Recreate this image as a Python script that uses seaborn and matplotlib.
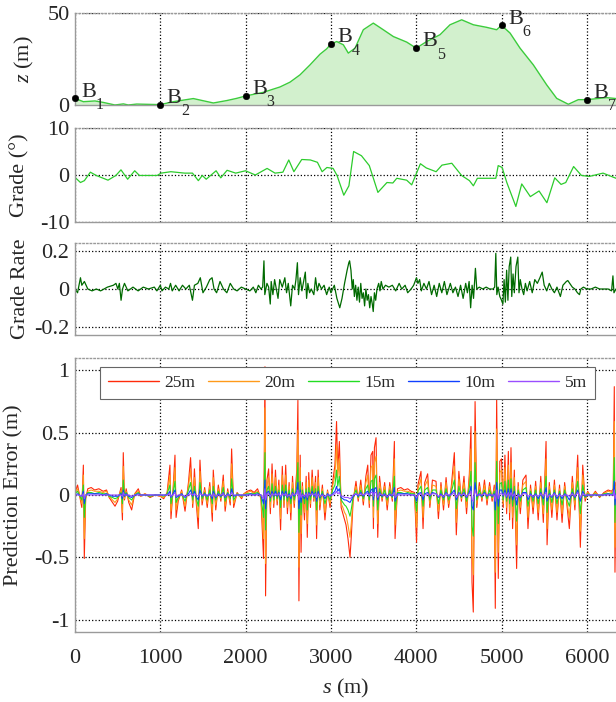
import matplotlib
matplotlib.use('Agg')
import matplotlib.pyplot as plt
import seaborn as sns

# ---- elevation profile ----
elev_s = [0, 98, 234, 332, 469, 567, 625, 723, 1000, 1153, 1387, 1622, 1778, 1895, 2000,
          2208, 2403, 2520, 2638, 2755, 2872, 2950, 3000, 3068, 3146, 3204, 3283, 3380,
          3497, 3614, 3732, 3888, 4000, 4123, 4279, 4396, 4533, 4670, 4826, 4943, 5000,
          5100, 5217, 5373, 5530, 5647, 5783, 5900, 6000, 6233, 6342]
elev_z = [3.6, 1.8, 2.2, 1.4, 0.0, 0.6, 0.0, 0.5, 0.2, 1.8, 3.5, 1.1, 2.4, 3.6, 4.9,
          6.9, 9.8, 12.4, 16.4, 21.8, 27.6, 30.5, 33.1, 34.5, 32.7, 28.2, 30.9, 40.9,
          44.5, 40.9, 37.2, 34.2, 30.9, 34.5, 38.2, 43.6, 46.3, 43.6, 42.2, 40.9, 43.3,
          39.1, 30.9, 21.8, 10.9, 3.6, 0.4, 2.9, 2.9, 4.0, 3.5]
station_s = [0, 1000, 2000, 3000, 4000, 5000, 6000]
station_z = [3.6, 0.2, 4.9, 33.1, 30.9, 43.3, 2.9]
station_ids = ['1', '2', '3', '4', '5', '6', '7']

# ---- grade (deg) ----
grade_s = [0, 64, 110, 180, 249, 387, 479, 539, 617, 700, 755, 963, 1009, 1124, 1285,
           1377, 1446, 1492, 1538, 1654, 1709, 1783, 1884, 1999, 2114, 2252, 2345, 2437,
           2506, 2566, 2658, 2759, 2842, 2897, 2953, 3026, 3072, 3151, 3211, 3266, 3358,
           3450, 3551, 3657, 3726, 3772, 3888, 3947, 4049, 4118, 4233, 4302, 4417, 4532,
           4624, 4670, 4717, 4933, 4961, 5007, 5062, 5168, 5237, 5338, 5440, 5532, 5624,
           5698, 5753, 5845, 5937, 6030, 6190, 6343]
grade_v = [-0.5, -1.6, -1.2, 0.6, -0.1, -1.1, -0.1, 1.1, -0.9, 0.9, -0.1, -0.1, 0.4, 0.7, 0.4,
           0.4, -1.2, -0.1, -0.9, 0.9, -0.6, 1.0, 0.4, 0.9, 0.0, 1.4, 0.4, 0.6,
           3.2, 0.7, 3.3, 3.2, 2.7, 0.7, 1.6, 1.4, -0.1, -4.3, -2.3, 5.0, 4.1,
           2.0, -3.7, -1.6, -1.7, -0.7, -1.1, -2.1, 2.4, 1.5, 0.7, 2.1, 2.5, -0.1,
           -1.2, -2.3, -0.7, -0.7, 2.0, 1.6, -1.6, -6.7, -1.9, -4.6, -3.4, -5.9, -0.6,
           -2.0, -1.6, 1.8, -0.1, -0.3, 0.4, -0.7]

# ---- grade rate ----
rate_s = [0, 30, 64, 80, 110, 150, 200, 250, 300, 380,
          450, 480, 502, 520, 540, 557, 580, 620, 680, 740,
          800, 860, 930, 960, 1000, 1020, 1040, 1060, 1100, 1120,
          1140, 1180, 1220, 1260, 1300, 1340, 1377, 1400, 1440, 1469,
          1500, 1540, 1580, 1607, 1630, 1660, 1700, 1740, 1780, 1820,
          1860, 1900, 1950, 2000, 2050, 2090, 2120, 2150, 2180, 2200,
          2215, 2225, 2250, 2270, 2289, 2300, 2320, 2340, 2360, 2380,
          2400, 2430, 2460, 2480, 2500, 2529, 2550, 2575, 2590, 2607,
          2620, 2640, 2660, 2680, 2700, 2715, 2730, 2750, 2770, 2800,
          2820, 2840, 2860, 2890, 2920, 2950, 2980, 3000, 3040, 3070,
          3090, 3104, 3130, 3160, 3190, 3210, 3219, 3235, 3250, 3262,
          3275, 3290, 3305, 3320, 3335, 3350, 3365, 3380, 3395, 3410,
          3425, 3440, 3455, 3470, 3485, 3496, 3510, 3525, 3540, 3560,
          3575, 3590, 3610, 3640, 3680, 3720, 3760, 3800, 3830, 3870,
          3900, 3940, 3970, 4003, 4020, 4040, 4060, 4090, 4120, 4150,
          4180, 4210, 4240, 4270, 4300, 4330, 4360, 4400, 4430, 4460,
          4490, 4520, 4550, 4580, 4600, 4620, 4638, 4655, 4672, 4694,
          4710, 4740, 4780, 4820, 4860, 4900, 4920, 4933, 4945, 4960,
          4980, 5000, 5016, 5030, 5045, 5060, 5075, 5090, 5108, 5120,
          5135, 5150, 5170, 5191, 5205, 5220, 5240, 5260, 5280, 5300,
          5330, 5360, 5390, 5420, 5450, 5477, 5500, 5530, 5560, 5590,
          5620, 5650, 5690, 5720, 5760, 5777, 5800, 5830, 5860, 5890,
          5914, 5930, 5960, 6000, 6050, 6100, 6150, 6200, 6250, 6290,
          6306, 6318, 6342]
rate_v = [0.0, -0.02, 0.06, 0.02, 0.04, 0.0, -0.01, 0.0, -0.01, 0.01,
          0.02, 0.03, 0.0, 0.03, -0.06, 0.0, 0.03, -0.01, 0.01, -0.01,
          0.01, 0.0, 0.01, -0.01, 0.02, -0.01, 0.0, 0.01, 0.0, 0.03,
          -0.01, 0.02, -0.01, 0.02, 0.0, 0.02, -0.06, 0.02, 0.03, 0.06,
          -0.02, 0.01, 0.05, 0.06, 0.0, -0.02, 0.04, 0.0, -0.02, 0.03,
          0.0, -0.01, 0.01, 0.0, -0.01, 0.01, -0.02, 0.02, 0.0, 0.01,
          0.15, -0.03, 0.03, 0.01, -0.08, 0.04, -0.03, 0.05, 0.0, -0.05,
          0.05, 0.01, 0.06, -0.02, 0.03, -0.09, 0.02, 0.0, 0.05, 0.14,
          -0.03, 0.06, -0.01, 0.04, 0.09, -0.05, 0.03, -0.02, 0.0, -0.03,
          0.06, -0.01, 0.03, 0.0, 0.02, -0.03, 0.01, -0.02, 0.02, -0.05,
          -0.08, -0.1, -0.05, 0.03, 0.1, 0.14, 0.15, 0.1, 0.0, 0.05,
          -0.04, 0.02, -0.06, 0.01, -0.07, 0.03, -0.05, -0.02, -0.09, 0.0,
          -0.06, -0.03, -0.1, -0.04, -0.08, -0.12, -0.02, -0.06, 0.0, 0.03,
          -0.01, 0.04, 0.0, 0.02, 0.01, 0.02, -0.01, 0.03, 0.0, 0.02,
          -0.02, 0.0, 0.02, 0.06, 0.03, 0.05, -0.01, 0.03, 0.0, 0.04,
          -0.03, 0.02, -0.04, 0.03, -0.02, 0.04, -0.03, 0.03, -0.02, 0.01,
          -0.04, 0.02, -0.05, 0.03, -0.02, 0.04, -0.1, 0.02, -0.05, 0.11,
          0.0, 0.01, 0.0, 0.01, 0.0, 0.0, 0.01, 0.19, -0.03, 0.01,
          -0.04, -0.06, -0.08, 0.05, -0.07, 0.1, -0.06, 0.12, 0.17, -0.04,
          0.08, -0.02, 0.12, 0.17, -0.02, 0.05, 0.0, -0.03, 0.03, -0.01,
          0.04, -0.02, 0.05, 0.03, 0.06, 0.09, 0.02, -0.01, 0.03, 0.0,
          -0.02, 0.01, -0.04, 0.02, 0.04, 0.045, 0.03, 0.01, 0.0, -0.02,
          -0.03, 0.0, 0.01, 0.0, 0.0, 0.01, 0.0, 0.0, 0.0, -0.01,
          0.07, -0.02, 0.0]

# ---- prediction error for each horizon ----
err_s = ([0, 30, 50, 80, 98, 109, 125, 150, 190, 230, 280, 330, 370, 400, 440, 469, 500, 540, 556, 566,
          580, 600, 630, 664, 700, 742, 770, 820, 880, 940, 1000]
         + [1040, 1080, 1113, 1125, 1150, 1172, 1185, 1210, 1250, 1290, 1330, 1355, 1380, 1400, 1420,
            1445, 1465, 1490, 1520, 1550, 1580, 1610, 1621, 1650, 1680, 1710, 1738, 1760, 1790, 1820,
            1836, 1860, 1900, 1953, 1980]
         + [2020, 2060, 2100, 2140, 2180, 2210, 2227, 2234, 2250, 2270, 2290, 2310, 2330, 2350, 2370,
            2390, 2410, 2430, 2450, 2470, 2490, 2510, 2530, 2550, 2570, 2600, 2613, 2625, 2640, 2650,
            2665, 2690, 2710, 2723, 2740, 2760, 2780, 2800, 2820, 2832, 2850, 2870, 2900, 2930, 2960, 2990]
         + [3020, 3047, 3066, 3080, 3099, 3120, 3140, 3160, 3177, 3200, 3224, 3240, 3260, 3294, 3320,
            3350, 3380, 3410, 3432, 3450, 3470, 3490, 3498, 3510, 3529, 3549, 3570, 3600, 3630, 3660,
            3690, 3720, 3744, 3752, 3780, 3820, 3860, 3900, 3940, 3980, 4004]
         + [4020, 4056, 4080, 4100, 4134, 4160, 4190, 4232, 4260, 4290, 4320, 4350, 4380, 4410, 4447,
            4470, 4500, 4530, 4560, 4590, 4623, 4642, 4654, 4669, 4690, 4710, 4740, 4770, 4800, 4830,
            4860, 4890, 4915, 4927, 4943, 4962, 4980]
         + [5000, 5020, 5040, 5060, 5080, 5095, 5111, 5130, 5150, 5177, 5195, 5220, 5250, 5287, 5310,
            5340, 5370, 5400, 5430, 5460, 5490, 5522, 5534, 5560, 5590, 5620, 5650, 5680, 5710, 5740,
            5770, 5795, 5830, 5860, 5893, 5924, 5952, 5980, 6010, 6050, 6100, 6150, 6200, 6250, 6290,
            6310, 6322, 6330, 6342])

err_25 = ([0.02, 0.08, 0.01, -0.1, 0.24, -0.51, -0.03, 0.05, 0.06, 0.04, 0.05, 0.03, 0.04, -0.02, -0.06,
           -0.09, -0.05, 0.06, -0.2, 0.34, -0.04, 0.05, -0.06, -0.12, 0.01, 0.05, -0.01, 0.01, -0.02, 0.0, -0.01]
          + [-0.03, 0.02, 0.24, -0.19, 0.05, 0.32, -0.18, -0.05, 0.04, -0.13, 0.1, 0.3, -0.1, 0.21, -0.05,
             -0.27, 0.28, -0.08, 0.06, -0.1, 0.1, -0.21, 0.2, -0.12, 0.08, -0.05, 0.16, -0.13, 0.05, -0.08,
             0.37, -0.1, 0.02, -0.03, 0.01]
          + [0.03, 0.04, 0.02, 0.05, -0.03, -0.51, 1.03, -0.81, 0.12, 0.21, -0.15, 0.25, -0.1, 0.2, -0.08,
             0.12, -0.28, 0.23, -0.1, 0.24, -0.15, 0.1, -0.2, 0.15, -0.1, 0.2, 0.76, -0.85, 0.32, -0.46,
             0.1, -0.2, 0.15, -0.34, 0.18, -0.1, 0.2, -0.05, 0.15, -0.35, 0.2, -0.12, 0.08, -0.2, 0.04, -0.1]
          + [0.1, 0.24, 0.59, 0.2, 0.43, -0.1, -0.15, -0.2, -0.24, -0.35, -0.5, -0.32, -0.05, 0.11, -0.05,
             0.12, -0.08, 0.15, 0.24, -0.1, 0.32, 0.35, -0.27, 0.38, 0.46, -0.34, 0.15, -0.05, 0.1, -0.12,
             0.1, -0.05, 0.43, -0.35, 0.05, 0.06, 0.04, 0.05, 0.03, 0.02, -0.38]
          + [0.08, 0.19, -0.27, 0.1, 0.17, -0.1, 0.12, 0.11, -0.19, 0.1, -0.12, 0.14, -0.1, 0.06, 0.34,
             -0.32, 0.19, -0.05, 0.15, -0.15, 0.17, 0.55, -0.7, -0.94, 0.75, -0.1, 0.1, -0.05, 0.12, -0.08,
             0.1, -0.05, 0.08, -0.91, 0.78, -0.67, 0.27]
          + [0.29, -0.1, 0.32, -0.15, 0.35, -0.2, 0.38, -0.27, 0.2, -0.59, 0.1, -0.15, 0.12, 0.16, -0.27,
             0.08, -0.15, 0.11, -0.2, 0.15, -0.22, 0.43, -0.4, 0.1, -0.18, 0.12, -0.2, 0.08, -0.22, 0.1,
             -0.1, -0.27, 0.15, -0.12, 0.32, -0.42, 0.24, -0.05, 0.03, -0.02, 0.03, -0.02, 0.02, 0.04, 0.03,
             0.05, 0.87, -0.62, 0.1])

err_20 = ([0.01, 0.05, 0.01, -0.07, 0.16, -0.35, -0.02, 0.03, 0.04, 0.03, 0.03, 0.02, 0.03, -0.01, -0.04,
           -0.06, -0.03, 0.04, -0.14, 0.23, -0.03, 0.03, -0.04, -0.08, 0.01, 0.03, -0.01, 0.01, -0.01, 0.0, -0.01]
          + [-0.02, 0.01, 0.16, -0.13, 0.03, 0.22, -0.12, -0.03, 0.03, -0.09, 0.07, 0.2, -0.07, 0.14, -0.03,
             -0.18, 0.19, -0.05, 0.04, -0.07, 0.07, -0.14, 0.14, -0.08, 0.05, -0.03, 0.11, -0.09, 0.03, -0.05,
             0.25, -0.07, 0.01, -0.02, 0.01]
          + [0.02, 0.03, 0.01, 0.03, -0.02, -0.35, 0.7, -0.55, 0.08, 0.14, -0.1, 0.17, -0.07, 0.14, -0.05,
             0.08, -0.19, 0.16, -0.07, 0.16, -0.1, 0.07, -0.14, 0.1, -0.07, 0.14, 0.52, -0.58, 0.22, -0.31,
             0.07, -0.14, 0.1, -0.23, 0.12, -0.07, 0.14, -0.03, 0.1, -0.24, 0.14, -0.08, 0.05, -0.14, 0.03, -0.07]
          + [0.07, 0.16, 0.4, 0.14, 0.29, -0.07, -0.1, -0.14, -0.16, -0.24, -0.34, -0.22, -0.03, 0.07, -0.03,
             0.08, -0.05, 0.1, 0.16, -0.07, 0.22, 0.24, -0.18, 0.26, 0.31, -0.23, 0.1, -0.03, 0.07, -0.08,
             0.07, -0.03, 0.29, -0.24, 0.03, 0.04, 0.03, 0.03, 0.02, 0.01, -0.26]
          + [0.05, 0.13, -0.18, 0.07, 0.12, -0.07, 0.08, 0.07, -0.13, 0.07, -0.08, 0.1, -0.07, 0.04, 0.23,
             -0.22, 0.13, -0.03, 0.1, -0.1, 0.12, 0.37, -0.48, -0.64, 0.51, -0.07, 0.07, -0.03, 0.08, -0.05,
             0.07, -0.03, 0.05, -0.62, 0.53, -0.46, 0.18]
          + [0.2, -0.07, 0.22, -0.1, 0.24, -0.14, 0.26, -0.18, 0.14, -0.4, 0.07, -0.1, 0.08, 0.11, -0.18,
             0.05, -0.1, 0.07, -0.14, 0.1, -0.15, 0.29, -0.27, 0.07, -0.12, 0.08, -0.14, 0.05, -0.15, 0.07,
             -0.07, -0.18, 0.1, -0.08, 0.22, -0.29, 0.16, -0.03, 0.02, -0.01, 0.02, -0.01, 0.01, 0.03, 0.02,
             0.03, 0.59, -0.42, 0.07])

err_15 = ([0.01, 0.03, 0.0, -0.04, 0.08, -0.18, -0.01, 0.02, 0.02, 0.01, 0.02, 0.01, 0.01, -0.01, -0.02,
           -0.03, -0.02, 0.02, -0.07, 0.12, -0.01, 0.02, -0.02, -0.04, 0.0, 0.02, 0.0, 0.0, -0.01, 0.0, 0.0]
          + [-0.01, 0.01, 0.08, -0.07, 0.02, 0.11, -0.06, -0.02, 0.01, -0.05, 0.04, 0.1, -0.04, 0.07, -0.02,
             -0.09, 0.1, -0.03, 0.02, -0.04, 0.04, -0.07, 0.07, -0.04, 0.03, -0.02, 0.06, -0.05, 0.02, -0.03,
             0.13, -0.04, 0.01, -0.01, 0.0]
          + [0.01, 0.01, 0.01, 0.02, -0.01, -0.18, 0.34, -0.28, 0.04, 0.07, -0.05, 0.09, -0.04, 0.07, -0.03,
             0.04, -0.1, 0.08, -0.04, 0.08, -0.05, 0.04, -0.07, 0.05, -0.04, 0.07, 0.26, -0.3, 0.11, -0.16,
             0.04, -0.07, 0.05, -0.12, 0.06, -0.04, 0.07, -0.02, 0.05, -0.12, 0.07, -0.04, 0.03, -0.07, 0.01, -0.04]
          + [0.04, 0.08, 0.2, 0.07, 0.15, -0.04, -0.06, -0.08, -0.09, -0.12, -0.17, -0.11, -0.02, 0.04, -0.02,
             0.04, -0.03, 0.05, 0.08, -0.04, 0.11, 0.12, -0.09, 0.13, 0.16, -0.12, 0.05, -0.02, 0.04, -0.04,
             0.04, -0.02, 0.15, -0.12, 0.02, 0.02, 0.01, 0.02, 0.01, 0.01, -0.13]
          + [0.03, 0.07, -0.09, 0.04, 0.06, -0.04, 0.04, 0.04, -0.07, 0.04, -0.04, 0.05, -0.04, 0.02, 0.12,
             -0.11, 0.07, -0.02, 0.05, -0.05, 0.06, 0.19, -0.25, -0.33, 0.26, -0.04, 0.04, -0.02, 0.04, -0.03,
             0.04, -0.02, 0.03, -0.32, 0.27, -0.23, 0.09]
          + [0.1, -0.04, 0.11, -0.05, 0.12, -0.07, 0.13, -0.09, 0.07, -0.21, 0.04, -0.05, 0.04, 0.06, -0.09,
             0.03, -0.05, 0.04, -0.07, 0.05, -0.08, 0.15, -0.14, 0.04, -0.06, 0.04, -0.07, 0.03, -0.08, 0.04,
             -0.04, -0.09, 0.05, -0.04, 0.11, -0.15, 0.08, -0.02, 0.01, -0.01, 0.01, -0.01, 0.01, 0.01, 0.01,
             0.02, 0.3, -0.22, 0.04])

err_10 = ([0.0, 0.01, 0.0, -0.01, 0.03, -0.07, 0.0, 0.01, 0.01, 0.01, 0.01, 0.0, 0.01, 0.0, -0.01,
           -0.01, -0.01, 0.01, -0.03, 0.04, -0.01, 0.01, -0.01, -0.02, 0.0, 0.01, 0.0, 0.0, 0.0, 0.0, 0.0]
          + [0.0, 0.0, 0.03, -0.02, 0.01, 0.04, -0.02, -0.01, 0.01, -0.02, 0.01, 0.04, -0.01, 0.03, -0.01,
             -0.04, 0.04, -0.01, 0.01, -0.01, 0.01, -0.03, 0.03, -0.02, 0.01, -0.01, 0.02, -0.02, 0.01, -0.01,
             0.05, -0.01, 0.0, 0.0, 0.0]
          + [0.0, 0.01, 0.0, 0.01, 0.0, -0.07, 0.12, -0.11, 0.02, 0.03, -0.02, 0.03, -0.01, 0.03, -0.01,
             0.02, -0.04, 0.03, -0.01, 0.03, -0.02, 0.01, -0.03, 0.02, -0.01, 0.03, 0.1, -0.11, 0.04, -0.06,
             0.01, -0.03, 0.02, -0.04, 0.02, -0.01, 0.03, -0.01, 0.02, -0.05, 0.03, -0.02, 0.01, -0.03, 0.01, -0.01]
          + [0.01, 0.03, 0.07, 0.03, 0.05, -0.02, -0.03, -0.04, -0.04, -0.05, -0.06, -0.04, -0.01, 0.01, -0.01,
             0.02, -0.01, 0.02, 0.03, -0.01, 0.04, 0.05, -0.04, 0.05, 0.06, -0.04, 0.02, -0.01, 0.01, -0.02,
             0.01, -0.01, 0.06, -0.05, 0.01, 0.01, 0.01, 0.01, 0.0, 0.0, -0.05]
          + [0.01, 0.02, -0.04, 0.01, 0.02, -0.01, 0.02, 0.01, -0.02, 0.01, -0.02, 0.02, -0.01, 0.01, 0.04,
             -0.04, 0.02, -0.01, 0.02, -0.02, 0.02, 0.07, -0.09, -0.12, 0.1, -0.01, 0.01, -0.01, 0.02, -0.01,
             0.01, -0.01, 0.01, -0.12, 0.1, -0.09, 0.04]
          + [0.04, -0.01, 0.04, -0.02, 0.05, -0.03, 0.05, -0.04, 0.03, -0.08, 0.01, -0.02, 0.02, 0.02, -0.04,
             0.01, -0.02, 0.01, -0.03, 0.02, -0.03, 0.06, -0.05, 0.01, -0.02, 0.02, -0.03, 0.01, -0.03, 0.01,
             -0.01, -0.04, 0.02, -0.02, 0.04, -0.05, 0.03, -0.01, 0.0, 0.0, 0.0, 0.0, 0.0, 0.01, 0.0,
             0.01, 0.11, -0.08, 0.01])

err_5 = ([0.0, 0.0, 0.0, -0.01, 0.01, -0.03, 0.0, 0.0, 0.0, 0.0, 0.0, 0.0, 0.0, 0.0, 0.0,
          0.0, 0.0, 0.0, -0.01, 0.02, 0.0, 0.0, 0.0, -0.01, 0.0, 0.0, 0.0, 0.0, 0.0, 0.0, 0.0]
         + [0.0, 0.0, 0.01, -0.01, 0.0, 0.02, -0.01, 0.0, 0.0, -0.01, 0.0, 0.01, 0.0, 0.01, 0.0,
            -0.01, 0.01, 0.0, 0.0, 0.0, 0.0, -0.01, 0.01, -0.01, 0.0, 0.0, 0.01, -0.01, 0.0, 0.0,
            0.02, 0.0, 0.0, 0.0, 0.0]
         + [0.0, 0.0, 0.0, 0.0, 0.0, -0.03, 0.05, -0.04, 0.01, 0.01, -0.01, 0.01, 0.0, 0.01, 0.0,
            0.01, -0.01, 0.01, 0.0, 0.01, -0.01, 0.0, -0.01, 0.01, 0.0, 0.01, 0.04, -0.04, 0.02, -0.02,
            0.0, -0.01, 0.01, -0.02, 0.01, 0.0, 0.01, 0.0, 0.01, -0.02, 0.01, -0.01, 0.0, -0.01, 0.0, 0.0]
         + [0.0, 0.01, 0.03, 0.01, 0.02, -0.01, -0.01, -0.02, -0.02, -0.02, -0.03, -0.02, 0.0, 0.01, 0.0,
            0.01, 0.0, 0.01, 0.01, 0.0, 0.02, 0.02, -0.01, 0.02, 0.02, -0.02, 0.01, 0.0, 0.0, -0.01,
            0.0, 0.0, 0.02, -0.02, 0.0, 0.0, 0.0, 0.0, 0.0, 0.0, -0.02]
         + [0.0, 0.01, -0.01, 0.0, 0.01, 0.0, 0.01, 0.01, -0.01, 0.0, -0.01, 0.01, 0.0, 0.0, 0.02,
            -0.02, 0.01, 0.0, 0.01, -0.01, 0.01, 0.03, -0.04, -0.05, 0.04, 0.0, 0.0, 0.0, 0.01, 0.0,
            0.0, 0.0, 0.0, -0.05, 0.04, -0.03, 0.01]
         + [0.01, 0.0, 0.02, -0.01, 0.02, -0.01, 0.02, -0.01, 0.01, -0.03, 0.0, -0.01, 0.01, 0.01, -0.01,
            0.0, -0.01, 0.0, -0.01, 0.01, -0.01, 0.02, -0.02, 0.0, -0.01, 0.01, -0.01, 0.0, -0.01, 0.0,
            0.0, -0.01, 0.01, -0.01, 0.02, -0.02, 0.01, 0.0, 0.0, 0.0, 0.0, 0.0, 0.0, 0.0, 0.0,
            0.0, 0.04, -0.03, 0.0])

horizon_labels = ['25m', '20m', '15m', '10m', '5m']
horizon_colors = ['#ff2a0a', '#ff9a1a', '#22dd22', '#1040ff', '#9a4dff']

# ---- style ----
sns.set_theme(style='white')
plt.rcParams['font.family'] = ['Liberation Serif', 'DejaVu Serif']
plt.rcParams['mathtext.fontset'] = 'custom'
plt.rcParams['mathtext.rm'] = 'Liberation Serif'
plt.rcParams['mathtext.it'] = 'Liberation Serif:italic'
plt.rcParams['axes.unicode_minus'] = False
FS = 16
W, H = 616, 702
S_MAX = 6342

fig = plt.figure(figsize=(W / 100, H / 100), dpi=100)


def panel(top, bottom):
    return fig.add_axes([75 / W, 1 - bottom / H, 1 - 75 / W, (bottom - top) / H])


def style(ax, ylim, yticks, yticklabels, ylabel, labelx, xlabels=False):
    ax.set_xlim(0, S_MAX)
    ax.set_ylim(*ylim)
    ax.set_xticks(range(0, 7000, 1000))
    ax.set_yticks(yticks)
    ax.set_yticklabels(yticklabels)
    ax.grid(True, ls=':', color='black', lw=0.9)
    ax.set_axisbelow(True)
    ax.spines['right'].set_visible(False)
    for side in ['left', 'bottom', 'top']:
        ax.spines[side].set_color('#9a9a9a')
        ax.spines[side].set_linewidth(1.0)
    ax.spines['top'].set_linestyle(':')
    ax.tick_params(direction='in', length=3, color='#9a9a9a', labelsize=FS, pad=4,
                   labelbottom=xlabels)
    ax.set_ylabel(ylabel, fontsize=FS)
    ax.yaxis.set_label_coords(labelx, 0.5)
    ax.set_xlabel('')


# panel 1: elevation
ax1 = panel(13, 105)
ax1.fill_between(elev_s, elev_z, 0, color='#d2f0cd', lw=0)
sns.lineplot(x=elev_s, y=elev_z, ax=ax1, color='#3ccc3c', lw=1.0, estimator=None, sort=False)
pts = sns.scatterplot(x=station_s, y=station_z, ax=ax1, color='black', s=22, edgecolor='black',
                      zorder=6)
for c in pts.collections:
    c.set_clip_on(False)
for s, z, k in zip(station_s, station_z, station_ids):
    ax1.annotate('B', (s, z), xytext=(4.6, 1.2), textcoords='offset points', fontsize=FS,
                 ha='left', va='baseline', annotation_clip=False)
    ax1.annotate(k, (s, z), xytext=(15.2, -7.5), textcoords='offset points', fontsize=11.5,
                 ha='left', va='baseline', annotation_clip=False)
style(ax1, (0, 50), [0, 50], ['0', '50'], '$z$ (m)', -0.072)

# panel 2: grade
ax2 = panel(128, 222)
sns.lineplot(x=grade_s, y=grade_v, ax=ax2, color='#2ccc2c', lw=0.9, estimator=None, sort=False)
style(ax2, (-10, 10), [-10, 0, 10], ['-10', '0', '10'], 'Grade (°)', -0.084)

# panel 3: grade rate
ax3 = panel(243, 335)
sns.lineplot(x=rate_s, y=rate_v, ax=ax3, color='#006a00', lw=0.9, estimator=None, sort=False)
style(ax3, (-0.245, 0.245), [-0.2, 0, 0.2], ['-0.2', '0', '0.2'], 'Grade Rate', -0.084)

# panel 4: prediction error
ax4 = panel(358, 632)
for vals, lab, col in zip([err_25, err_20, err_15, err_10, err_5], horizon_labels, horizon_colors):
    sns.lineplot(x=err_s, y=vals, ax=ax4, color=col, lw=0.8, estimator=None, sort=False, label=lab)
style(ax4, (-1.1, 1.1), [-1, -0.5, 0, 0.5, 1], ['-1', '-0.5', '0', '0.5', '1'],
      'Prediction Error (m)', -0.095, xlabels=True)
ax4.tick_params(axis='x', pad=12)
ax4.set_xlabel('$s$ (m)', fontsize=FS, labelpad=7)
h, l = ax4.get_legend_handles_labels()
leg = ax4.legend(h, l, ncol=5, loc='upper left', bbox_to_anchor=(0.046, 0.967),
                 borderaxespad=0, fontsize=12.5, handlelength=2.95, handletextpad=0.32,
                 columnspacing=0.72, borderpad=0.45, fancybox=False, framealpha=1,
                 edgecolor='#666666')
leg.get_frame().set_linewidth(0.8)
for line in leg.get_lines():
    line.set_linewidth(1.0)

fig.savefig('out.png', dpi=100)
